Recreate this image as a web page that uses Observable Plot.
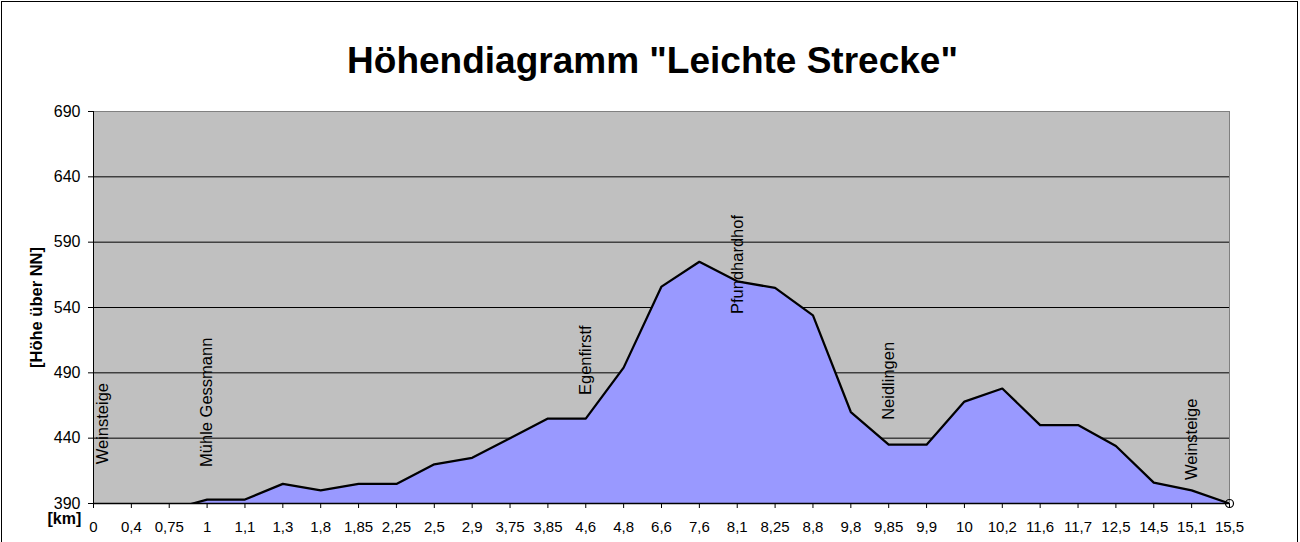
<!DOCTYPE html>
<html><head><meta charset="utf-8">
<script src="https://cdn.jsdelivr.net/npm/d3@7"></script>
<script src="https://cdn.jsdelivr.net/npm/@observablehq/plot@0.6"></script>
<style>
body{margin:0;background:#fff;}
#wrap{position:relative;width:1300px;height:542px;overflow:hidden;font-family:Arial,"Liberation Sans",sans-serif;background:#fff;}
#wrap svg{position:absolute;left:0;top:0;}
#border{position:absolute;left:1px;top:1px;width:1297px;height:580px;border:1px solid #000;box-sizing:border-box;pointer-events:none;}
</style></head><body><div id="wrap"><div id="border"></div></div>
<script>
const km = ["0","0,4","0,75","1","1,1","1,3","1,8","1,85","2,25","2,5","2,9","3,75","3,85","4,6","4,8","6,6","7,6","8,1","8,25","8,8","9,8","9,85","9,9","10","10,2","11,6","11,7","12,5","14,5","15,1","15,5"];
const hoehe = [385,385,385,393,393,405,400,405,405,420,425,440,455,455,494,556,575,560,555,534,460,435,435,468,478,450,450,434,406,400,390];
const ortNamen = ["Weinsteige","Mühle Gessmann","Egenfirstf","Pfundhardhof","Neidlingen","Weinsteige"];
const ortKm = ["0","1","4,6","8,1","9,85","15,1"];
const ortHoehe = [420,418,473,535,454,408];
const yTicks = [390,440,490,540,590,640,690];
const gridLines = [440,490,540,590,640];
const titel = "Höhendiagramm \"Leichte Strecke\"";
const yTitel = "[Höhe über NN]";
const xTitel = "[km]";

const data = km.map((k, i) => ({km: k, h: hoehe[i]}));
const orte = ortNamen.map((n, i) => ({name: n, km: ortKm[i], h: ortHoehe[i]}));
const FONT = "Arial, 'Liberation Sans', sans-serif";

const chart = Plot.plot({
  width: 1300,
  height: 542,
  marginTop: 111,
  marginBottom: 39,
  marginLeft: 93,
  marginRight: 71,
  style: {background: "transparent", color: "black", fontFamily: FONT, overflow: "visible"},
  x: {type: "point", domain: km, padding: 0, round: false, label: null},
  y: {domain: [390, 690], ticks: yTicks, label: null},
  marks: [
    Plot.frame({fill: "#c0c0c0", stroke: "#808080"}),
    Plot.ruleY(gridLines, {stroke: "black", strokeWidth: 1}),
    Plot.areaY(data, {x: "km", y: "h", fill: "#9999ff", clip: true}),
    Plot.lineY(data, {x: "km", y: "h", stroke: "black", strokeWidth: 2.25, clip: true}),
    Plot.ruleX([km[0]], {stroke: "black", strokeWidth: 1}),
    Plot.ruleY([390], {stroke: "black", strokeWidth: 1.5}),
    Plot.dot([data[data.length - 1]], {x: "km", y: "h", r: 4, stroke: "black", fill: "none", strokeWidth: 1.2}),
    Plot.text(orte.slice(0, 1), {x: "km", y: "h", text: "name", rotate: -90, textAnchor: "start", lineAnchor: "middle", fontSize: 16.5, dx: 9, fill: "black"}),
    Plot.text(orte.slice(1), {x: "km", y: "h", text: "name", rotate: -90, textAnchor: "start", lineAnchor: "middle", fontSize: 16.5, fill: "black"}),
    Plot.axisY({ticks: yTicks, tickSize: 5, tickPadding: 8, fontSize: 16, label: null}),
    Plot.axisX({tickSize: 5, tickPadding: 13, fontSize: 15, label: null}),
    Plot.text([titel], {frameAnchor: "top", dx: -9, dy: -39, lineAnchor: "bottom", fontSize: 37, fontWeight: "bold", fill: "black"}),
    Plot.text([yTitel], {frameAnchor: "left", dx: -57, rotate: -90, textAnchor: "middle", lineAnchor: "middle", fontSize: 16.5, fontWeight: "bold", fill: "black"}),
    Plot.text([xTitel], {frameAnchor: "bottom-left", dx: -46, dy: 20.5, textAnchor: "start", lineAnchor: "bottom", fontSize: 16, fontWeight: "bold", fill: "black"})
  ]
});
document.getElementById("wrap").insertBefore(chart, document.getElementById("border"));
</script>
</body></html>
